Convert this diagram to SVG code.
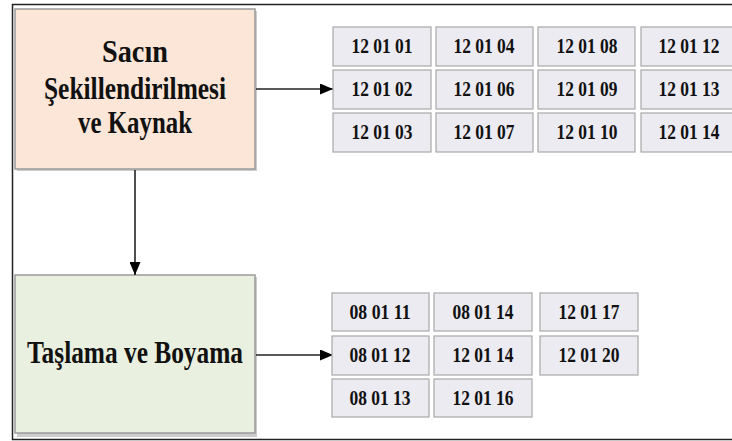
<svg xmlns="http://www.w3.org/2000/svg" width="732" height="441" viewBox="0 0 732 441">
<style>
.main{stroke:#9a9a9a;stroke-width:1.5}
.cell rect{fill:#ecebf1;stroke:#a8a8a8;stroke-width:1.2}
.cell text{font-family:"Liberation Serif",serif;font-weight:bold;font-size:21px;fill:#111;text-anchor:middle}
.big{font-family:"Liberation Serif",serif;font-weight:bold;font-size:31px;fill:#111;text-anchor:middle}
.conn{stroke:#222;stroke-width:1.6;fill:none}
</style>
<defs>
<marker id="ah" markerWidth="13" markerHeight="11" refX="13" refY="5.5" orient="auto" markerUnits="userSpaceOnUse">
<path d="M0,0 L13,5.5 L0,11 Z" fill="#000"/>
</marker>
</defs>
<rect width="732" height="441" fill="#fff"/>
<path d="M732,4.5 H12.5 V439.5 H732" fill="none" stroke="#222" stroke-width="1.5"/>

<g id="node-sacin">
<rect x="17" y="11" width="240" height="160" fill="#9a9a9a" opacity="0.5"/>
<rect x="15" y="9" width="240" height="160" fill="#fbe6d8" class="main"/>
<text class="big" x="135" y="62" textLength="66" lengthAdjust="spacingAndGlyphs">Sacın</text>
<text class="big" x="135" y="99" textLength="182" lengthAdjust="spacingAndGlyphs">Şekillendirilmesi</text>
<text class="big" x="135" y="133" textLength="114" lengthAdjust="spacingAndGlyphs">ve Kaynak</text>
</g>

<g id="node-taslama">
<rect x="17" y="277" width="240" height="160" fill="#9a9a9a" opacity="0.5"/>
<rect x="15" y="275" width="240" height="158" fill="#eaf0df" class="main"/>
<text class="big" x="135" y="363" textLength="216" lengthAdjust="spacingAndGlyphs">Taşlama ve Boyama</text>
</g>

<g id="connectors">
<line class="conn" x1="256" y1="89" x2="333" y2="89" marker-end="url(#ah)"/>
<line class="conn" x1="135" y1="170" x2="135" y2="275" marker-end="url(#ah)"/>
<line class="conn" x1="256" y1="355" x2="333" y2="355" marker-end="url(#ah)"/>
</g>

<g id="codes-top" class="cell">
<g id="c-120101"><rect x="333" y="27" width="98" height="39"/><text x="382" y="53" textLength="61" lengthAdjust="spacingAndGlyphs">12 01 01</text></g>
<g id="c-120104"><rect x="436" y="27" width="97" height="39"/><text x="484" y="53" textLength="61" lengthAdjust="spacingAndGlyphs">12 01 04</text></g>
<g id="c-120108"><rect x="538" y="27" width="97" height="39"/><text x="587" y="53" textLength="61" lengthAdjust="spacingAndGlyphs">12 01 08</text></g>
<g id="c-120112"><rect x="641" y="27" width="97" height="39"/><text x="689" y="53" textLength="61" lengthAdjust="spacingAndGlyphs">12 01 12</text></g>

<g id="c-120102"><rect x="333" y="70" width="98" height="39"/><text x="382" y="96" textLength="61" lengthAdjust="spacingAndGlyphs">12 01 02</text></g>
<g id="c-120106"><rect x="436" y="70" width="97" height="39"/><text x="484" y="96" textLength="61" lengthAdjust="spacingAndGlyphs">12 01 06</text></g>
<g id="c-120109"><rect x="538" y="70" width="97" height="39"/><text x="587" y="96" textLength="61" lengthAdjust="spacingAndGlyphs">12 01 09</text></g>
<g id="c-120113"><rect x="641" y="70" width="97" height="39"/><text x="689" y="96" textLength="61" lengthAdjust="spacingAndGlyphs">12 01 13</text></g>

<g id="c-120103"><rect x="333" y="113" width="98" height="39"/><text x="382" y="139" textLength="61" lengthAdjust="spacingAndGlyphs">12 01 03</text></g>
<g id="c-120107"><rect x="436" y="113" width="97" height="39"/><text x="484" y="139" textLength="61" lengthAdjust="spacingAndGlyphs">12 01 07</text></g>
<g id="c-120110"><rect x="538" y="113" width="97" height="39"/><text x="587" y="139" textLength="61" lengthAdjust="spacingAndGlyphs">12 01 10</text></g>
<g id="c-120114"><rect x="641" y="113" width="97" height="39"/><text x="689" y="139" textLength="61" lengthAdjust="spacingAndGlyphs">12 01 14</text></g>
</g>

<g id="codes-bottom" class="cell">
<g id="c-080111"><rect x="332" y="293" width="97" height="38"/><text x="380" y="319" textLength="61" lengthAdjust="spacingAndGlyphs">08 01 11</text></g>
<g id="c-080114"><rect x="434" y="293" width="98" height="38"/><text x="483" y="319" textLength="61" lengthAdjust="spacingAndGlyphs">08 01 14</text></g>
<g id="c-120117"><rect x="540" y="293" width="98" height="38"/><text x="589" y="319" textLength="61" lengthAdjust="spacingAndGlyphs">12 01 17</text></g>

<g id="c-080112"><rect x="332" y="336" width="97" height="39"/><text x="380" y="362" textLength="61" lengthAdjust="spacingAndGlyphs">08 01 12</text></g>
<g id="c-120114b"><rect x="434" y="336" width="98" height="39"/><text x="483" y="362" textLength="61" lengthAdjust="spacingAndGlyphs">12 01 14</text></g>
<g id="c-120120"><rect x="540" y="336" width="98" height="39"/><text x="589" y="362" textLength="61" lengthAdjust="spacingAndGlyphs">12 01 20</text></g>

<g id="c-080113"><rect x="332" y="379" width="97" height="38"/><text x="380" y="405" textLength="61" lengthAdjust="spacingAndGlyphs">08 01 13</text></g>
<g id="c-120116"><rect x="434" y="379" width="98" height="38"/><text x="483" y="405" textLength="61" lengthAdjust="spacingAndGlyphs">12 01 16</text></g>
</g>
</svg>
